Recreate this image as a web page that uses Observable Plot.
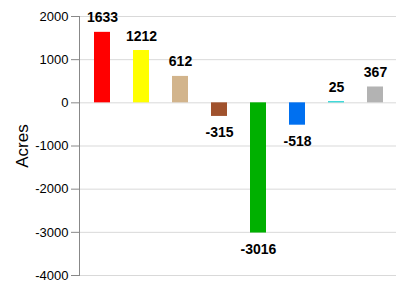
<!DOCTYPE html>
<html>
<head>
<meta charset="utf-8">
<script src="https://cdn.jsdelivr.net/npm/d3@7"></script>
<script src="https://cdn.jsdelivr.net/npm/@observablehq/plot@0.6"></script>
<style>
  html, body { margin: 0; padding: 0; background: #fff; }
  #chart svg { display: block; }
</style>
</head>
<body>
<div id="chart"></div>
<script>
const categories = ["Developed", "Cultivated", "Grassland", "Scrub/Shrub", "Forest", "Water", "Wetland", "Barren"];
const values = [1633, 1212, 612, -315, -3016, -518, 25, 367];
const colors = ["#ff0000", "#ffff00", "#d2b48c", "#a0522d", "#00b000", "#0070f0", "#00cccc", "#b3b3b3"];
const yTicks = [-4000, -3000, -2000, -1000, 0, 1000, 2000];
const yLabel = "Acres";

const data = categories.map((c, i) => ({cat: c, value: values[i], color: colors[i]}));

const axisLine = (index, scales, values, dimensions) => {
  const {marginLeft, marginTop, height, marginBottom} = dimensions;
  const line = document.createElementNS("http://www.w3.org/2000/svg", "line");
  line.setAttribute("x1", marginLeft - 0.5);
  line.setAttribute("x2", marginLeft - 0.5);
  line.setAttribute("y1", marginTop);
  line.setAttribute("y2", height - marginBottom);
  line.setAttribute("stroke", "#888888");
  line.setAttribute("stroke-width", 1);
  return line;
};

const chart = Plot.plot({
  width: 408,
  height: 292,
  marginLeft: 80,
  marginRight: 12,
  marginTop: 16,
  marginBottom: 17,
  style: {fontFamily: "Arial, 'Liberation Sans', sans-serif", background: "#fff", color: "#000"},
  x: {domain: categories, paddingInner: 0.595, paddingOuter: 0.2975, axis: null},
  y: {domain: [-4000, 2000], ticks: yTicks},
  marks: [
    Plot.gridY(yTicks, {stroke: "#d9d9d9", strokeOpacity: 1}),
    Plot.axisY(yTicks, {tickSize: 9, tickPadding: 3, fontSize: 13, stroke: "#888888", label: null, color: "#000", tickFormat: d => String(d)}),
    axisLine,
    Plot.barY(data, {x: "cat", y: "value", fill: "color"}),
    Plot.text(data.filter(d => d.value >= 0), {x: "cat", y: "value", text: d => String(d.value), lineAnchor: "bottom", dy: -10, fontSize: 14, fontWeight: "bold", fill: "#000"}),
    Plot.text(data.filter(d => d.value < 0), {x: "cat", y: "value", text: d => String(d.value), lineAnchor: "top", dy: 11, fontSize: 14, fontWeight: "bold", fill: "#000"}),
    Plot.text([yLabel], {frameAnchor: "left", dx: -53, rotate: -90, lineAnchor: "bottom", textAnchor: "middle", fontSize: 17, fill: "#000"})
  ]
});
document.getElementById("chart").appendChild(chart);
</script>
</body>
</html>
